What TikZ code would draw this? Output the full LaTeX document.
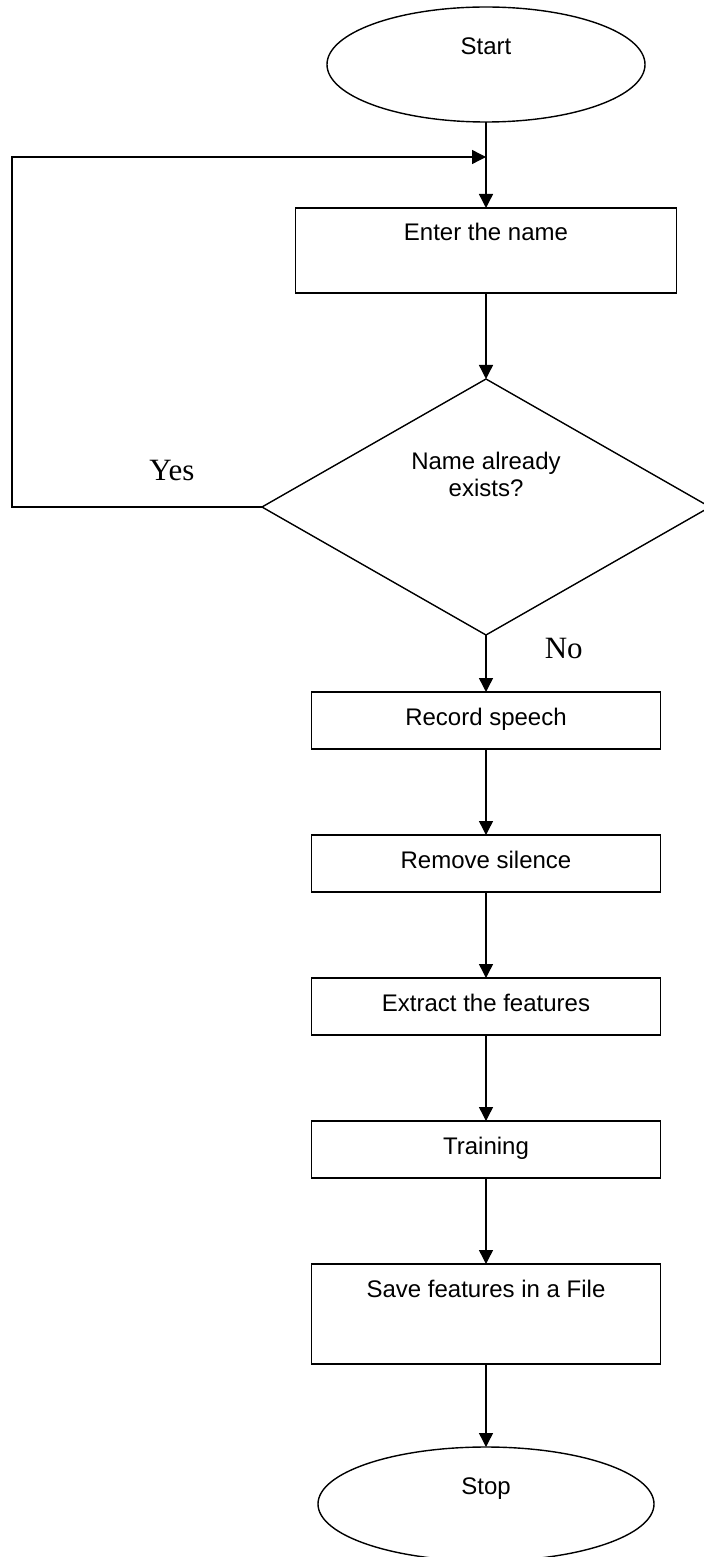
\documentclass[tikz,border=0pt]{standalone}
\usepackage{fontspec}
\setmainfont{Liberation Sans}
\newfontfamily\timesfont{Liberation Serif}
\usetikzlibrary{shapes.geometric, arrows.meta, positioning}

\begin{document}
\begin{tikzpicture}[
        node distance=43pt,
        line width=0.7pt,
        terminal/.style={ellipse, draw, inner sep=0pt, outer sep=0pt, text height=9pt, text depth=18.5pt, font=\fontsize{12}{12.5}\selectfont},
        process/.style={rectangle, draw, inner sep=0pt, outer sep=0pt, minimum width=174.5pt, text height=16.5pt, text depth=12pt, font=\fontsize{12}{12.5}\selectfont},
        decision/.style={diamond, draw, inner sep=0pt, outer sep=0pt, shape aspect=1.75, minimum width=224pt, minimum height=128pt, align=center, text height=10pt, text depth=21pt, font=\fontsize{12}{12.5}\selectfont},
        answer/.style={font=\timesfont\fontsize{15.5}{16}\selectfont},
        flow/.style={-{Triangle[length=7pt, width=7pt]}}
    ]
        \useasboundingbox (0,0) rectangle (351.5pt,-778.5pt);
        \node[terminal, minimum width=159pt, minimum height=57.5pt] (start) at (243pt,-32.25pt) {Start};
        \coordinate[below=17.5pt of start] (join);
        \node[process, below=of start, minimum width=190.5pt, text depth=26pt] (enter) {Enter the name};
        \node[decision, below=of enter] (check) {Name already\\[0.6pt]exists?};
        \node[process, below=28.5pt of check] (record) {Record speech};
        \node[process, below=of record] (silence) {Remove silence};
        \node[process, below=of silence] (extract) {Extract the features};
        \node[process, below=of extract] (train) {Training};
        \node[process, below=of train, text depth=33.5pt] (save) {Save features in a File};
        \node[terminal, below=41.5pt of save, minimum width=168pt, minimum height=57pt] (stop) {Stop};

        \draw[flow] (start) -- (enter);
        \draw[flow] (enter) -- (check);
        \draw[flow] (check.west) -- ++(-125pt,0) node[answer, pos=0.36, above=9.4pt] {Yes} |- (join);
        \draw[flow] (check) -- (record) node[answer, pos=0.24, right=25.7pt] {No};
        \draw[flow] (record) -- (silence);
        \draw[flow] (silence) -- (extract);
        \draw[flow] (extract) -- (train);
        \draw[flow] (train) -- (save);
        \draw[flow] (save) -- (stop);
    \end{tikzpicture}
\end{document}
